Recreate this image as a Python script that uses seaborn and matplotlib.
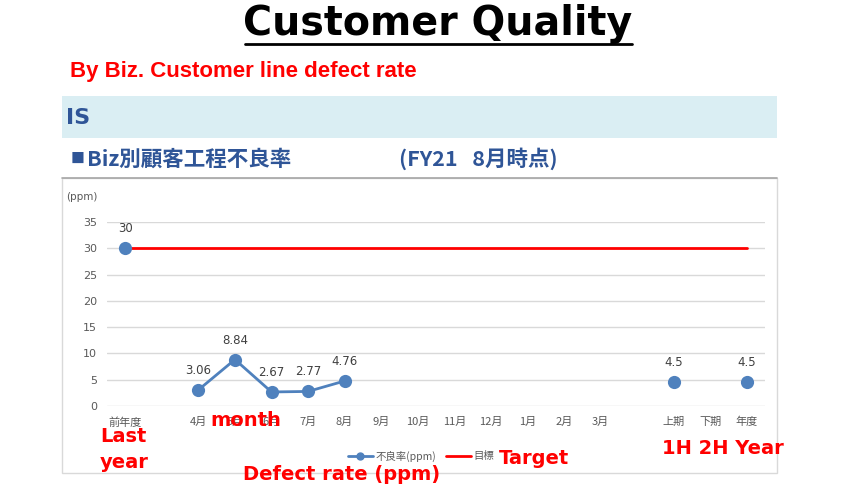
import numpy as np
import pandas as pd
import seaborn as sns
from matplotlib import pyplot as plt
from matplotlib.lines import Line2D
from matplotlib.patches import Rectangle

# data
categories = ['前年度', '', '4月', '5月', '6月', '7月', '8月', '9月', '10月', '11月',
              '12月', '1月', '2月', '3月', '', '上期', '下期', '年度']
defect_rate = [30, None, 3.06, 8.84, 2.67, 2.77, 4.76, None, None, None,
               None, None, None, None, None, 4.5, None, 4.5]
target = [30] * len(categories)
y_ticks = [0, 5, 10, 15, 20, 25, 30, 35]

df = pd.DataFrame({'pos': range(len(categories)), 'label': categories,
                   'rate': defect_rate, 'target': target})
df['seg'] = df['rate'].isna().cumsum()
rates = df.dropna(subset=['rate'])

W, H = 857, 496
def fx(px):
    return px / W
def fy(py):
    return 1 - py / H

sns.set_theme(style='white')
plt.rcParams['font.family'] = ['DejaVu Sans', 'Noto Sans CJK JP']
CJK = ['Noto Sans CJK JP', 'DejaVu Sans']
RED = '#FF0000'
BLUE = '#4F81BD'
NAVY = '#2F5597'
GREY = '#595959'

fig = plt.figure(figsize=(W / 100, H / 100), dpi=100)

# header
fig.text(fx(438), fy(24), 'Customer Quality', ha='center', va='center',
         fontsize=28.5, fontweight='bold', color='black')
fig.add_artist(Line2D([fx(245), fx(632)], [fy(43.5), fy(43.5)], color='black', lw=2))
fig.text(fx(70), fy(72), 'By Biz. Customer line defect rate', ha='left', va='center',
         fontsize=16, fontweight='bold', color=RED, family='Liberation Sans')
fig.add_artist(Rectangle((fx(62), fy(138)), (777 - 62) / W, 42 / H,
                         transform=fig.transFigure, facecolor='#DAEEF3', edgecolor='none'))
fig.text(fx(66), fy(118), 'IS', ha='left', va='center', fontsize=16,
         fontweight='bold', color=NAVY)
fig.text(fx(71), fy(159), '■', ha='left', va='center', fontsize=10,
         color=NAVY, family=CJK)
fig.text(fx(87), fy(159), 'Biz別顧客工程不良率', ha='left', va='center', fontsize=15.5,
         fontweight='bold', color=NAVY, family=CJK)
fig.text(fx(399), fy(159), '(FY21   8月時点)', ha='left', va='center', fontsize=15.5,
         fontweight='bold', color=NAVY, family=CJK)

# chart frame
fig.add_artist(Rectangle((fx(62), fy(473)), (777 - 62) / W, (473 - 178) / H,
                         transform=fig.transFigure, fill=False, edgecolor='#D9D9D9', lw=1))
fig.add_artist(Line2D([fx(62), fx(777)], [fy(178), fy(178)], color='#A6A6A6', lw=1.2))

ax = fig.add_axes([fx(107), fy(406), (765 - 107) / W, (406 - 222) / H])
sns.lineplot(data=df, x='pos', y='target', color=RED, lw=2, ax=ax)
sns.lineplot(data=rates, x='pos', y='rate', units='seg', estimator=None, color=BLUE,
             marker='o', markersize=9.5, markeredgewidth=0, lw=2, ax=ax)

for x, y in zip(rates['pos'], rates['rate']):
    ax.annotate(f'{y:g}', (x, y), xytext=(0, 14), textcoords='offset points',
                ha='center', va='center', fontsize=8.5, color='#404040')

ax.set_xlim(-0.5, len(categories) - 0.5)
ax.set_ylim(0, 35)
ax.set_yticks(y_ticks)
ax.set_xticks(range(len(categories)))
ax.set_xticklabels(categories, family=CJK)
ax.tick_params(length=0, colors=GREY, labelsize=8)
ax.tick_params(axis='y', pad=7)
ax.tick_params(axis='x', pad=8)
ax.grid(axis='y', color='#D9D9D9', lw=1)
ax.set_axisbelow(True)
for s in ax.spines.values():
    s.set_visible(False)
ax.set(xlabel='', ylabel='')
ax.patch.set_alpha(0)

fig.text(fx(66), fy(197), '(ppm)', ha='left', va='center', fontsize=7.5, color=GREY)

# legend
handles = [Line2D([], [], color=BLUE, lw=2, marker='o', markersize=5),
           Line2D([], [], color=RED, lw=2)]
fig.legend(handles, ['不良率(ppm)', '目標'], loc='center', bbox_to_anchor=(fx(421), fy(456)),
           ncol=2, frameon=False, prop={'family': CJK, 'size': 7.5}, labelcolor=GREY,
           handlelength=2.4, handletextpad=0.2, columnspacing=1.0)

# red annotations
red_notes = [(210, 420, 'month'), (100, 437, 'Last'), (100, 462, 'year'),
             (243, 474, 'Defect rate (ppm)'), (499, 458, 'Target'), (662, 449, '1H 2H Year')]
for px, py, txt in red_notes:
    fig.text(fx(px), fy(py), txt, ha='left', va='center', fontsize=14,
             fontweight='bold', color=RED, zorder=5)

fig.savefig('out.png', dpi=100)
